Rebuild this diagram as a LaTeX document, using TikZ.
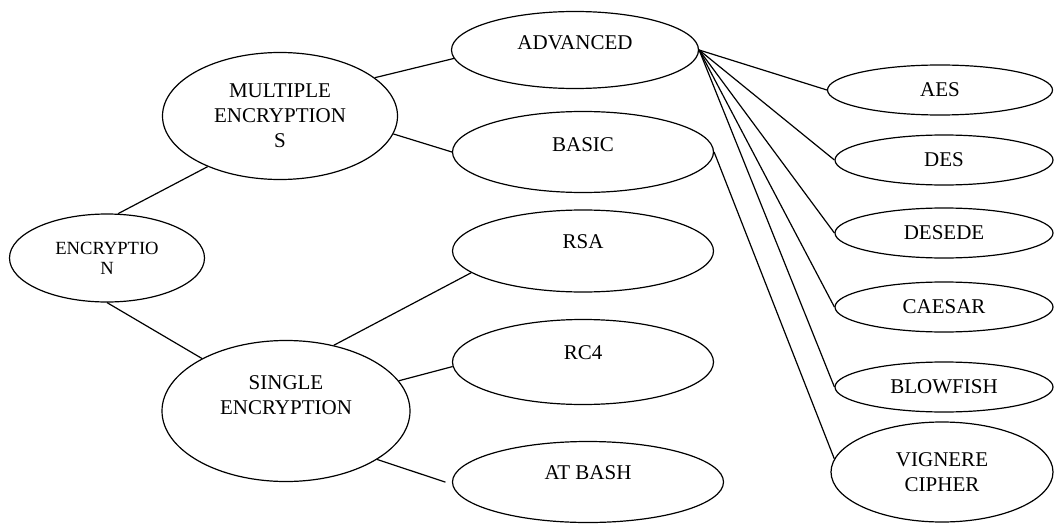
\documentclass[tikz,border=0pt]{standalone}
\usepackage{fontspec}
\setmainfont{Liberation Serif}
\usetikzlibrary{shapes.geometric}

\begin{document}
\begin{tikzpicture}[
x=0.5pt, y=-0.5pt,
oval/.style={draw, ellipse, line width=0.6pt,
inner sep=0pt, align=center,
font=\fontsize{10.5}{12.5}\selectfont},
leaf/.style={oval, minimum width=109pt, minimum height=25pt},
link/.style={line width=0.6pt}
]

\useasboundingbox (0,0) rectangle (1054,524);

\node[oval, minimum width=97.5pt, minimum height=44pt, font=\fontsize{9.3}{10}\selectfont] (enc) at (107,258) {ENCRYPTIO\\N};
\node[oval, minimum width=117.5pt, minimum height=63.5pt] (multi) at (280,116) {MULTIPLE\\ENCRYPTION\\S};
\node[oval, minimum width=124pt, minimum height=70.5pt, text depth=16pt] (single) at (286,411) {SINGLE\\ENCRYPTION};

\node[oval, minimum width=123.5pt, minimum height=38.5pt, text depth=7pt] (adv) at (575,50) {ADVANCED};
\node[oval, minimum width=130.5pt, minimum height=40.5pt, text depth=7pt] (basic) at (583,152) {BASIC};
\node[oval, minimum width=130.5pt, minimum height=41pt, text depth=9pt] (rsa) at (583,251) {RSA};
\node[oval, minimum width=130.5pt, minimum height=42.5pt, text depth=9pt] (rc4) at (583,362) {RC4};
\node[oval, minimum width=135.5pt, minimum height=40.5pt, text depth=9pt] (atbash) at (588,482) {AT BASH};

\node[leaf, minimum width=112.5pt] (aes) at (940,90) {AES};
\node[leaf] (des) at (944,160) {DES};
\node[leaf] (desede) at (944,233) {DESEDE};
\node[leaf] (caesar) at (944,307) {CAESAR};
\node[leaf] (blowfish) at (944,387) {BLOWFISH};
\node[leaf, minimum width=111pt, minimum height=50pt] (vig) at (942,472) {VIGNERE\\CIPHER};

\draw[link] (enc.76) -- (multi.215);
\draw[link] (enc.south) -- (single.148);
\draw[link] (multi.22) -- (adv.184);
\draw[link] (multi.351) -- (basic.west);
\draw[link] (single.54) -- (rsa.191);
\draw[link] (single.15) -- (rc4.182);
\draw[link, shorten >=3.5pt] (single.332) -- (atbash.181);

\draw[link] (adv.east) -- (aes.west);
\draw[link] (adv.east) -- (des.west);
\draw[link] (adv.east) -- (desede.west);
\draw[link] (adv.east) -- (caesar.west);
\draw[link] (adv.east) -- (blowfish.west);
\draw[link] (basic.east) -- (vig.173);

\end{tikzpicture}
\end{document}
